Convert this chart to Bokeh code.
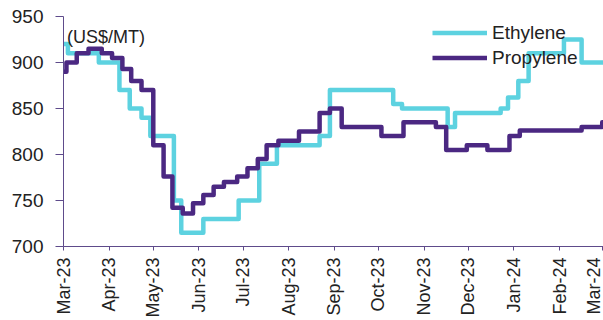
import math
import pandas as pd
from bokeh.plotting import figure
from bokeh.models import (Range1d, FixedTicker, DatetimeTickFormatter, Legend,
                          LegendItem, Label)
from bokeh.embed import file_html
from bokeh.resources import INLINE

# ---- data ----
eth_dates = ["2023-03-01", "2023-03-04", "2023-03-25", "2023-04-08", "2023-04-15",
             "2023-04-23", "2023-04-29", "2023-05-15", "2023-05-20", "2023-06-04",
             "2023-06-28", "2023-07-12", "2023-07-24", "2023-08-22", "2023-08-29",
             "2023-10-11", "2023-10-17", "2023-11-17", "2023-11-22", "2023-12-23",
             "2023-12-28", "2024-01-04", "2024-01-11", "2024-02-04", "2024-02-16",
             "2024-03-02"]
eth_values = [920, 910, 900, 870, 850,
              840, 820, 750, 715, 730,
              750, 790, 810, 820, 870,
              855, 850, 830, 845, 850,
              862, 880, 910, 925, 900,
              900]

pro_dates = ["2023-03-01", "2023-03-03", "2023-03-10", "2023-03-18", "2023-03-27",
             "2023-04-03", "2023-04-10", "2023-04-16", "2023-04-23", "2023-05-01",
             "2023-05-08", "2023-05-14", "2023-05-21", "2023-05-28", "2023-06-04",
             "2023-06-11", "2023-06-18", "2023-06-27", "2023-07-04", "2023-07-11",
             "2023-07-17", "2023-07-25", "2023-08-08", "2023-08-22", "2023-08-29",
             "2023-09-06", "2023-10-03", "2023-10-18", "2023-11-09", "2023-11-16",
             "2023-11-30", "2023-12-14", "2023-12-29", "2024-01-05", "2024-02-16",
             "2024-03-01", "2024-03-02"]
pro_values = [890, 900, 910, 915, 910,
              905, 893, 880, 870, 810,
              776, 742, 736, 747, 756,
              765, 770, 776, 785, 795,
              810, 815, 825, 845, 850,
              830, 820, 835, 830, 805,
              810, 805, 820, 826, 830,
              835, 835]

month_ticks = ["2023-03-01", "2023-04-01", "2023-05-01", "2023-06-01", "2023-07-01",
               "2023-08-01", "2023-09-01", "2023-10-01", "2023-11-01", "2023-12-01",
               "2024-01-01", "2024-02-01", "2024-03-01"]
y_ticks = [700, 750, 800, 850, 900, 950]

ETH_COLOR = "#5DD2E0"
PRO_COLOR = "#4B2882"
AXIS_COLOR = "#5E4B8B"
TEXT_COLOR = "#222222"
FONT = "Liberation Sans"

x_start = pd.Timestamp("2023-03-01")
x_end = pd.Timestamp("2024-03-01 21:00")

p = figure(width=603, height=320, x_axis_type="datetime",
           x_range=Range1d(x_start, x_end), y_range=Range1d(700, 950),
           output_backend="svg", toolbar_location=None,
           min_border_left=63, min_border_right=0, min_border_top=16,
           min_border_bottom=73)
p.outline_line_color = None
p.grid.visible = False
p.background_fill_color = "white"
p.border_fill_color = "white"

r_eth = p.step(pd.to_datetime(eth_dates), eth_values, mode="after",
               line_color=ETH_COLOR, line_width=4.5, line_join="round")
r_pro = p.step(pd.to_datetime(pro_dates), pro_values, mode="after",
               line_color=PRO_COLOR, line_width=4.5, line_join="round")

# axes
p.xaxis.ticker = FixedTicker(ticks=[pd.Timestamp(d).value // 10**6 for d in month_ticks])
fmt = "%b-%y"
p.xaxis.formatter = DatetimeTickFormatter(days=fmt, months=fmt, years=fmt,
                                          hours=fmt, minutes=fmt, seconds=fmt,
                                          milliseconds=fmt, microseconds=fmt)
p.xaxis.major_label_orientation = math.pi / 2
p.yaxis.ticker = FixedTicker(ticks=y_ticks)

for ax in (p.xaxis, p.yaxis):
    ax.axis_line_color = AXIS_COLOR
    ax.axis_line_width = 1
    ax.major_tick_line_color = AXIS_COLOR
    ax.minor_tick_line_color = None
    ax.major_tick_in = 0
    ax.major_label_text_font = FONT
    ax.major_label_text_color = TEXT_COLOR

p.xaxis.major_tick_out = 4
p.xaxis.major_label_standoff = 7
p.xaxis.major_label_text_font_size = "18px"
p.yaxis.major_tick_out = 8
p.yaxis.major_label_standoff = 12
p.yaxis.major_label_text_font_size = "19px"

legend = Legend(items=[LegendItem(label="Ethylene", renderers=[r_eth]),
                       LegendItem(label="Propylene", renderers=[r_pro])],
                location=(369, 176), orientation="vertical",
                glyph_width=55, glyph_height=25, label_height=25,
                label_standoff=5, padding=0, spacing=0, margin=0,
                background_fill_alpha=0, border_line_alpha=0,
                label_text_font=FONT, label_text_font_size="19px",
                label_text_color=TEXT_COLOR)
p.add_layout(legend)

unit = Label(x=3.5, y=210, x_units="screen", y_units="screen", text="(US$/MT)",
             text_font=FONT, text_font_size="18px", text_color=TEXT_COLOR,
             text_baseline="alphabetic")
p.add_layout(unit)

# thin purple band across the very top of the canvas
band = Label(x=-63, y=247, x_units="screen", y_units="screen", text=" ",
             text_font_size="1px", text_baseline="top", text_align="left",
             background_fill_color=PRO_COLOR, padding=(0, 620, 1, 0))
p.add_layout(band)

open("out.html", "w").write(file_html(p, INLINE))
